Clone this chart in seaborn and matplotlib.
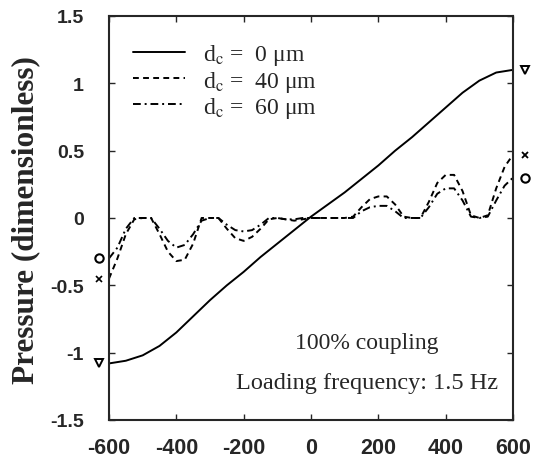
import numpy as np
import pandas as pd
import matplotlib
matplotlib.use("Agg")
import matplotlib.pyplot as plt
import matplotlib.transforms as mtransforms
from matplotlib.lines import Line2D
import seaborn as sns

# ---- data ----
x_solid = [-600, -550, -500, -450, -400, -350, -300, -250, -200, -150, -100, -50, 0,
           50, 100, 150, 200, 250, 300, 350, 400, 450, 500, 550, 600]
p_0um = [-1.08, -1.06, -1.02, -0.95, -0.85, -0.73, -0.61, -0.50, -0.40, -0.29, -0.19, -0.09, 0.01,
         0.10, 0.19, 0.29, 0.39, 0.50, 0.60, 0.71, 0.82, 0.93, 1.02, 1.08, 1.10]

x_wave = [-600, -575, -550, -525, -500, -475, -450, -425, -400, -375, -350, -325, -300,
          -275, -250, -225, -200, -175, -150, -125, -100, -75, -50, -25, 0,
          25, 50, 75, 100, 125, 150, 175, 200, 225, 250, 275, 300,
          325, 350, 375, 400, 425, 450, 475, 500, 525, 550, 575, 600]
p_40um = [-0.45, -0.30, -0.12, -0.01, 0.00, 0.00, -0.12, -0.25, -0.32, -0.31, -0.19, 0.00, 0.00,
          0.00, -0.08, -0.15, -0.17, -0.14, -0.08, -0.01, 0.00, -0.01, -0.02, -0.01, 0.00,
          0.00, 0.00, 0.00, 0.00, 0.01, 0.08, 0.14, 0.16, 0.16, 0.10, 0.01, 0.00,
          0.00, 0.12, 0.26, 0.32, 0.32, 0.20, 0.02, 0.00, 0.02, 0.22, 0.38, 0.47]
p_60um = [-0.30, -0.22, -0.08, 0.00, 0.00, 0.00, -0.08, -0.17, -0.22, -0.20, -0.12, -0.02, 0.00,
          0.00, -0.05, -0.09, -0.10, -0.09, -0.05, 0.00, 0.00, -0.01, -0.01, 0.00, 0.00,
          0.00, 0.00, 0.00, 0.00, 0.00, 0.05, 0.08, 0.09, 0.09, 0.05, 0.00, 0.00,
          0.00, 0.08, 0.18, 0.22, 0.22, 0.13, 0.01, 0.00, 0.01, 0.13, 0.24, 0.30]

labels = ['d$_\\mathrm{c}$ =  0 μm', 'd$_\\mathrm{c}$ =  40 μm', 'd$_\\mathrm{c}$ =  60 μm']
x_ticks = [-600, -400, -200, 0, 200, 400, 600]
y_ticks = [-1.5, -1, -0.5, 0, 0.5, 1, 1.5]
y_ticklabels = ['-1.5', '-1', '-0.5', '0', '0.5', '1', '1.5']

df = pd.concat([
    pd.DataFrame({'x': x_solid, 'p': p_0um, 'case': labels[0]}),
    pd.DataFrame({'x': x_wave, 'p': p_40um, 'case': labels[1]}),
    pd.DataFrame({'x': x_wave, 'p': p_60um, 'case': labels[2]}),
])

sns.set_style("ticks")
plt.rcParams['font.family'] = ['Liberation Sans', 'DejaVu Sans']
plt.rcParams['mathtext.fontset'] = 'stix'
plt.rcParams['axes.unicode_minus'] = False

fig = plt.figure(figsize=(5.41, 4.60), dpi=100)
ax = fig.add_axes([0.2015, 0.0848, 0.7468, 0.8783])

dash_map = {labels[0]: '', labels[1]: (3, 2.2), labels[2]: (4, 2, 1, 2)}
sns.lineplot(data=df, x='x', y='p', style='case', dashes=dash_map, color='black',
             linewidth=1.4, ax=ax, legend=False, estimator=None, sort=False)

ax.set_xlim(-600, 600)
ax.set_ylim(-1.5, 1.5)
ax.set_xticks(x_ticks)
ax.set_yticks(y_ticks)
ax.set_yticklabels(y_ticklabels)
ax.set_xlabel('')
ax.set_ylabel('Pressure (dimensionless)', fontsize=22.5, fontweight='bold',
              family='Liberation Serif', va='center')
ax.yaxis.set_label_coords(-0.205, 0.4975)
ax.tick_params(direction='in', length=4, width=1, top=True, right=True)
ax.tick_params(axis='x', pad=12, labelsize=15.5)
ax.tick_params(axis='y', pad=18, labelsize=14)
for t in ax.get_xticklabels() + ax.get_yticklabels():
    t.set_fontweight('bold')
for s in ax.spines.values():
    s.set_linewidth(1.5)

# end markers sitting just outside the frame
right = mtransforms.offset_copy(ax.transData, fig=fig, x=12, y=0, units='dots')
left = mtransforms.offset_copy(ax.transData, fig=fig, x=-10, y=0, units='dots')
mk = dict(color='black', clip_on=False, linestyle='none')
ax.plot(x_solid[-1], p_0um[-1], marker='v', ms=6, mfc='white', mew=1.4, transform=right, **mk)
ax.plot(x_wave[-1], p_40um[-1], marker='x', ms=5, mew=1.3, transform=right, **mk)
ax.plot(x_wave[-1], p_60um[-1], marker='o', ms=6, mfc='white', mew=1.5, transform=right, **mk)
ax.plot(x_solid[0], p_0um[0], marker='v', ms=6, mfc='white', mew=1.4, transform=left, **mk)
ax.plot(x_wave[0], p_40um[0], marker='x', ms=4, mew=1.2, transform=left, **mk)
ax.plot(x_wave[0], p_60um[0], marker='o', ms=6, mfc='white', mew=1.5, transform=left, **mk)

handles = [Line2D([], [], color='black', lw=1.4, linestyle='-'),
           Line2D([], [], color='black', lw=1.4, linestyle=(0, (3, 2.2))),
           Line2D([], [], color='black', lw=1.4, linestyle=(0, (4, 2, 1, 2)))]
ax.legend(handles, labels, loc='upper left', bbox_to_anchor=(0.035, 0.958), frameon=False,
          prop={'family': 'Liberation Serif', 'size': 17}, handlelength=2.2,
          handletextpad=0.8, labelspacing=0.05, borderaxespad=0)

ax.text(0.639, 0.193, '100% coupling', transform=ax.transAxes, ha='center', va='center',
        family='Liberation Serif', fontsize=17)
ax.text(0.639, 0.094, 'Loading frequency: 1.5 Hz', transform=ax.transAxes, ha='center',
        va='center', family='Liberation Serif', fontsize=17.5)

fig.savefig('out.png', dpi=100)
